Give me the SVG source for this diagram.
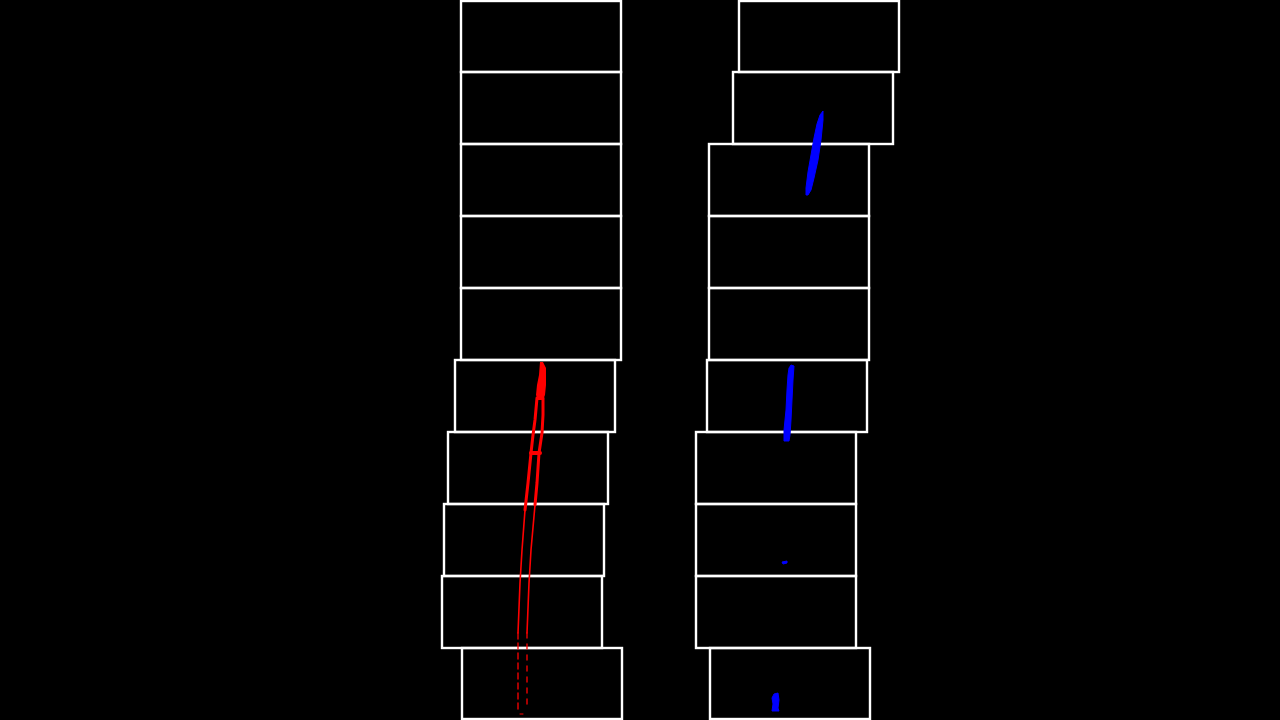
<svg xmlns="http://www.w3.org/2000/svg" width="1280" height="720" viewBox="0 0 1280 720">
<style>
.win{fill:none;stroke:#fff;stroke-width:2.4}
.red{fill:none;stroke:#f00;stroke-linejoin:round;stroke-linecap:round}
.blue{fill:#00f;stroke:#00f;stroke-width:1}
</style>
<rect x="0" y="0" width="1280" height="720" fill="#000"/>
<g id="left-windows">
<rect class="win" x="461" y="1" width="160" height="71"/>
<rect class="win" x="461" y="72" width="160" height="72"/>
<rect class="win" x="461" y="144" width="160" height="72"/>
<rect class="win" x="461" y="216" width="160" height="72"/>
<rect class="win" x="461" y="288" width="160" height="72"/>
<rect class="win" x="455" y="360" width="160" height="72"/>
<rect class="win" x="448" y="432" width="160" height="72"/>
<rect class="win" x="444" y="504" width="160" height="72"/>
<rect class="win" x="442" y="576" width="160" height="72"/>
<rect class="win" x="462" y="648" width="160" height="71"/>
</g>
<g id="right-windows">
<rect class="win" x="739" y="1" width="160" height="71"/>
<rect class="win" x="733" y="72" width="160" height="72"/>
<rect class="win" x="709" y="144" width="160" height="72"/>
<rect class="win" x="709" y="216" width="160" height="72"/>
<rect class="win" x="709" y="288" width="160" height="72"/>
<rect class="win" x="707" y="360" width="160" height="72"/>
<rect class="win" x="696" y="432" width="160" height="72"/>
<rect class="win" x="696" y="504" width="160" height="72"/>
<rect class="win" x="696" y="576" width="160" height="72"/>
<rect class="win" x="710" y="648" width="160" height="71"/>
</g>
<g id="left-lane-pixels">
<path fill="#f00" d="M540,362 L543,362 L546,368 L546,385 L545,395 L543,400 L538,400 L536,395 L537,385 L539,375 Z"/>
<path class="red" stroke-width="3" d="M537,398 L535,420 L533,435 L531,453 L528,483 L525,510"/>
<path class="red" stroke-width="3" d="M543,398 L543,415 L542,433 L539,453 L537,483 L535,505"/>
<path class="red" stroke-width="4" d="M531,453 L540,453"/>
<path class="red" stroke-width="1.6" d="M525,510 L522,550 L520,583 L518,633"/>
<path class="red" stroke-width="1.6" d="M535,505 L531,550 L529,583 L527,633"/>
<path class="red" stroke-width="1.3" stroke-dasharray="6,4" d="M518,633 L518,683 L518,712"/>
<path class="red" stroke-width="1.3" stroke-dasharray="5,6" d="M527,633 L527,683 L527,710"/>
<path class="red" stroke-width="1" d="M520,714 L523,714"/>
</g>
<g id="right-lane-pixels">
<path class="blue" d="M823,111 L823,120 L821,140 L818,160 L814,178 L811,190 L808,195 L806,195 L806,188 L808,172 L811,155 L814,138 L817,124 L820,115 Z"/>
<path class="blue" d="M791,365 L794,366 L793,380 L792,400 L791,420 L790,435 L789,441 L784,441 L784,430 L786,410 L787,390 L788,375 L789,368 Z"/>
<path class="blue" d="M782,562 L787,561 L787,563 L783,564 Z"/>
<path class="blue" d="M774,694 L778,693 L779,700 L778,708 L779,711 L772,711 L773,704 L772,698 Z"/>
</g>
</svg>
